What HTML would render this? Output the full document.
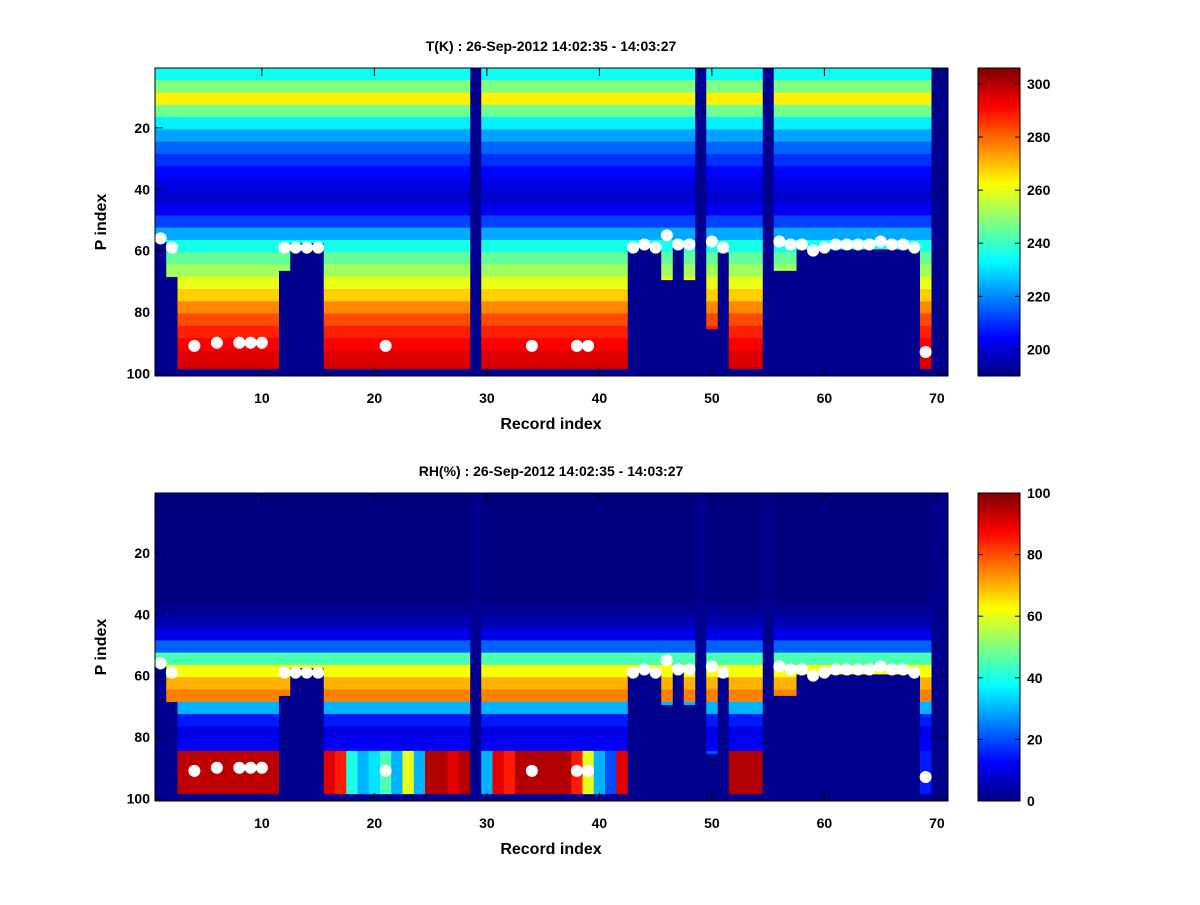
<!DOCTYPE html>
<html><head><meta charset="utf-8">
<style>
html,body{margin:0;padding:0;background:#fff;}
svg text{font-family:"Liberation Sans",Arial,sans-serif;font-weight:bold;fill:#000;}
</style></head>
<body>
<svg id="fig" width="1200" height="900" xmlns="http://www.w3.org/2000/svg">
<rect width="1200" height="900" fill="#fff"/>
<g id="top"></g>
<g id="bot"></g>
</svg>
<script>
// ---- data ----
const records = Array.from({length:70},(_,i)=>i+1);
// last valid P index per record (0 = no data)
const cutoff = [56,68,98,98,98,98,98,98,98,98,98,66,57,57,57,98,98,98,98,98,98,98,98,98,98,98,98,98,0,98,
98,98,98,98,98,98,98,98,98,98,98,98,58,58,58,69,58,69,0,85,60,98,98,98,0,66,66,59,59,59,
59,59,59,59,59,59,59,59,98,0];
// surface markers [record, P index]
const dotRec = [1,2,4,6,8,9,10,12,13,14,15,21,34,38,39,43,44,45,46,47,48,50,51,56,57,58,59,60,61,62,63,64,65,66,67,68,69];
const dotP   = [56,59,91,90,90,90,90,59,59,59,59,91,91,91,91,59,58,59,55,58,58,57,59,57,58,58,60,59,58,58,58,58,57,58,58,59,93];
// temperature profile (K) per 4-index level: 1-4, 5-8, ..., 97-100
const tProfile = [235,248,264,246,232,223,216,210,205,201,199,203,212,224,236,245,252,260,268,276,283,288,292,295,296];
// RH profile (%) per 4-index level
const rhProfile = [0,0,0,0,0,0,0,0,0,2,5,10,22,45,62,70,75,30,15,10,12,50,94,94,94];
// RH in bottom levels (index 85-100) per record
const rhBottom = [94,80,94,94,94,94,94,94,94,94,94,80,80,80,80,90,85,40,30,35,45,30,60,30,95,95,90,95,0,30,
90,85,95,95,95,95,95,85,60,30,20,90,60,60,60,70,60,70,0,20,60,95,95,95,0,70,70,60,60,60,
60,60,60,60,60,60,60,60,15,0];
const tTicks = [200,220,240,260,280,300];
const rhTicks = [0,20,40,60,80,100];
const xTicks = [10,20,30,40,50,60,70];
const yTicks = [20,40,60,80,100];

function jet(v){
  v=Math.max(0,Math.min(1,v));
  const r=Math.max(0,Math.min(1,1.5-Math.abs(4*v-3)));
  const g=Math.max(0,Math.min(1,1.5-Math.abs(4*v-2)));
  const b=Math.max(0,Math.min(1,1.5-Math.abs(4*v-1)));
  return `rgb(${Math.round(r*255)},${Math.round(g*255)},${Math.round(b*255)})`;
}
const NS="http://www.w3.org/2000/svg";
function mk(tag,attrs,parent){const e=document.createElementNS(NS,tag);for(const k in attrs)e.setAttribute(k,attrs[k]);parent.appendChild(e);return e;}

function panel(g,top,title,valueFn,vmin,vmax,cTicks){
  const L=155,R=948,T=top,B=top+308;
  const x=r=>L+(r-0.5)*11.25;
  const y=p=>T+(p-0.5)*3.07;
  const cv=v=>jet((v-vmin)/(vmax-vmin));
  const bg=mk('rect',{x:L,y:T,width:R-L,height:B-T,fill:'#00008f'},g);
  
  
  records.forEach((r,i)=>{
    const c=cutoff[i]; if(!c) return;
    for(let lv=0;lv<tProfile.length;lv++){
      const p0=lv*4+1, p1=Math.min(lv*4+4,c);
      if(p0>c) break;
      const val=valueFn(i,lv,p0);
      const rc=mk('rect',{x:x(r-0.5),y:y(p0-0.5),width:11.5,height:y(p1+0.5)-y(p0-0.5)+0.3,fill:cv(val)},g);
      
      
    }
  });
  dotRec.forEach((r,i)=>{
    const d=mk('circle',{cx:x(r),cy:y(dotP[i]),r:6,fill:'#fff'},g);
    
    
  });
  const fr=mk('rect',{x:L,y:T,width:R-L,height:B-T,fill:'none',stroke:'#000','stroke-width':1},g);
  
  
  xTicks.forEach(t=>{
    const X=x(t);
    mk('line',{x1:X,x2:X,y1:B,y2:B-8,stroke:'#000'},g);
    mk('line',{x1:X,x2:X,y1:T,y2:T+8,stroke:'#000'},g);
    const tx=mk('text',{x:X,y:B+27,'font-size':14,'text-anchor':'middle'},g);tx.textContent=t;
    
    
  });
  yTicks.forEach(t=>{
    const Y=y(t);
    mk('line',{x1:L,x2:L+8,y1:Y,y2:Y,stroke:'#000'},g);
    mk('line',{x1:R,x2:R-8,y1:Y,y2:Y,stroke:'#000'},g);
    const tx=mk('text',{x:L-5,y:Y+5,'font-size':14,'text-anchor':'end'},g);tx.textContent=t;
    
    
  });
  const tt=mk('text',{x:551,y:T-17,'font-size':14,'text-anchor':'middle'},g);tt.textContent=title;
  
  
  const xl=mk('text',{x:551,y:B+53,'font-size':16,'text-anchor':'middle'},g);xl.textContent='Record index';
  
  
  const yl=mk('text',{x:106,y:(T+B)/2,'font-size':16,'text-anchor':'middle',transform:`rotate(-90 106 ${(T+B)/2})`},g);yl.textContent='P index';
  
  
  const CL=978,CR=1020;
  const gid='grad'+top;
  const defs=mk('defs',{},g);
  const lg=mk('linearGradient',{id:gid,x1:0,y1:1,x2:0,y2:0},defs);
  for(let k=0;k<=16;k++){mk('stop',{offset:k/16,'stop-color':jet(k/16)},lg);}
  const cb=mk('rect',{x:CL,y:T,width:CR-CL,height:B-T,fill:`url(#${gid})`,stroke:'#000'},g);
  
  
  cTicks.forEach(t=>{
    const Y=B-(t-vmin)/(vmax-vmin)*(B-T);
    mk('line',{x1:CL,x2:CL+5,y1:Y,y2:Y,stroke:'#000'},g);
    mk('line',{x1:CR,x2:CR-5,y1:Y,y2:Y,stroke:'#000'},g);
    const tx=mk('text',{x:CR+7,y:Y+5,'font-size':14},g);tx.textContent=t;
    
    
  });
}
panel(document.getElementById('top'),68,'T(K) : 26-Sep-2012 14:02:35 - 14:03:27',
  (i,lv,p0)=>tProfile[lv],190,306,tTicks);
panel(document.getElementById('bot'),493,'RH(%) : 26-Sep-2012 14:02:35 - 14:03:27',
  (i,lv,p0)=>p0>=85?rhBottom[i]:rhProfile[lv],0,100,rhTicks);
</script>
</body></html>
